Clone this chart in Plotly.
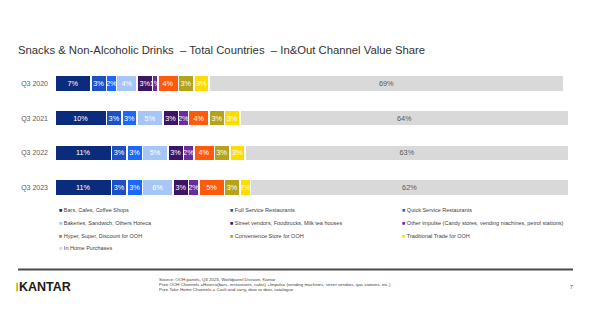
import plotly.graph_objects as go

periods = ["Q3 2020", "Q3 2021", "Q3 2022", "Q3 2023"]
channels = [
    "Bars, Cafes, Coffee Shops",
    "Full Service Restaurants",
    "Quick Service Restaurants",
    "Bakeries, Sandwich, Others Horeca",
    "Street vendors, Foodtrucks, Milk tea houses",
    "Other impulse (Candy stores, vending machines, petrol stations)",
    "Hyper, Super, Discount for OOH",
    "Convenience Store for OOH",
    "Traditional Trade for OOH",
    "In Home Purchases",
]
bars_cafes = [7, 10, 11, 11]
full_service = [3, 3, 3, 3]
quick_service = [2, 3, 3, 3]
bakeries = [4, 5, 5, 6]
street_vendors = [3, 3, 3, 3]
other_impulse = [1, 2, 2, 2]
hyper_super = [4, 4, 4, 5]
convenience = [3, 3, 3, 3]
traditional = [3, 3, 3, 2]
in_home = [69, 64, 63, 62]
series = [bars_cafes, full_service, quick_service, bakeries, street_vendors,
          other_impulse, hyper_super, convenience, traditional, in_home]
colors = ["#0b2c7c", "#1d50c4", "#1a68ff", "#a6c6f8", "#3d1566",
          "#6a2c9e", "#ff5a0a", "#b6a31c", "#ffdc00", "#d9d9d9"]

title = "Snacks & Non-Alcoholic Drinks  \u2013 Total Countries  \u2013 In&Out Channel Value Share"
footnotes = [
    "Source: OOH panels, Q3 2023, Worldpanel Division, Kantar",
    "Pure OOH Channels =Horeca(bars, restaurants, cafes) +Impulse (vending machines, street vendors, gas stations, etc.)",
    "Pure Take Home Channels = Cash and carry, door to door, catalogue",
]

FONT = "Liberation Sans, Arial, sans-serif"
fig = go.Figure()
for name, vals, col in zip(channels, series, colors):
    txtcol = "#595959" if col == "#d9d9d9" else "white"
    fig.add_trace(go.Bar(
        y=periods, x=vals, orientation="h", name=name,
        marker=dict(color=col, line=dict(color="white", width=1.5)),
        text=[f"{v}%" for v in vals], textposition="inside",
        insidetextanchor="middle", textangle=0, constraintext="none",
        textfont=dict(size=7.3, color=txtcol, family=FONT),
        showlegend=False, hoverinfo="skip",
    ))

W, H = 591, 334
ml, mr, mt, mb = 55, 22, 65.5, 128.5
fig.update_layout(
    width=W, height=H, barmode="stack", bargap=0.54,
    margin=dict(l=ml, r=mr, t=mt, b=mb),
    paper_bgcolor="white", plot_bgcolor="white",
    font=dict(family=FONT),
    xaxis=dict(range=[0, 100], visible=False, fixedrange=True),
    yaxis=dict(autorange="reversed", showgrid=False, showline=False, zeroline=False,
               ticks="", ticklabelstandoff=6,
               tickfont=dict(size=7, color="#595959", family=FONT)),
    title=dict(text=title, x=18 / W, xanchor="left", y=1 - 50.5 / H, yanchor="middle",
               font=dict(size=11.3, color="#333333", family=FONT)),
)

# custom legend (3 columns)
col_x = [57, 228, 400]
row_y = [211, 224, 236.5, 249]
for i, (name, col) in enumerate(zip(channels, colors)):
    r, c = divmod(i, 3)
    fig.add_annotation(
        xref="paper", yref="paper", x=(col_x[c] - ml) / (W - ml - mr),
        y=(H - mb - row_y[r]) / (H - mt - mb),
        xanchor="left", yanchor="middle", showarrow=False,
        text=f"<span style='color:{col}'>\u25a0</span> {name}",
        font=dict(size=5.5, color="#404040", family=FONT),
    )

def px_x(x):
    return (x - ml) / (W - ml - mr)

def px_y(y):
    return (H - mb - y) / (H - mt - mb)

# bottom separator line
fig.add_shape(type="line", xref="paper", yref="paper",
              x0=px_x(18), x1=px_x(573), y0=px_y(270.5), y1=px_y(270.5),
              line=dict(color="#4a4a4a", width=2))
# logo
fig.add_annotation(xref="paper", yref="paper", x=px_x(17), y=px_y(288),
                   xanchor="left", yanchor="middle", showarrow=False,
                   text="<b>KANTAR</b>", font=dict(size=12.5, color="#1a1a1a", family=FONT))
fig.add_shape(type="rect", xref="paper", yref="paper",
              x0=px_x(16.2), x1=px_x(18.0), y0=px_y(292.5), y1=px_y(283.8),
              fillcolor="#e3b900", line=dict(width=0))
# footnotes
for j, line in enumerate(footnotes):
    fig.add_annotation(xref="paper", yref="paper", x=px_x(157), y=px_y(281 + j * 5),
                       xanchor="left", yanchor="middle", showarrow=False,
                       text=line, font=dict(size=4.4, color="#404040", family=FONT))
fig.add_annotation(xref="paper", yref="paper", x=px_x(571), y=px_y(288),
                   xanchor="center", yanchor="middle", showarrow=False,
                   text="7", font=dict(size=5, color="#404040", family=FONT))

fig.write_html("out.html")
